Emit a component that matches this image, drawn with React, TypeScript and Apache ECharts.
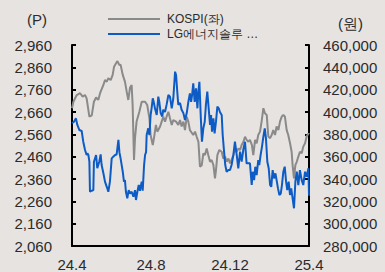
import React, { useEffect, useRef } from "react";
import * as echarts from "echarts";

// x = months since 2024.4
const xTickLabels = ["24.4", "24.8", "24.12", "25.4"];
const leftTicks = [2060, 2160, 2260, 2360, 2460, 2560, 2660, 2760, 2860, 2960];

const kospi: [number, number][] = [
  [0, 2677], [0.07, 2706], [0.24, 2736], [0.41, 2744], [0.54, 2729], [0.66, 2736], [0.74, 2721],
  [0.88, 2639], [1.0, 2645], [1.11, 2706], [1.22, 2725], [1.33, 2714], [1.42, 2744], [1.59, 2781],
  [1.67, 2803], [1.76, 2796], [1.84, 2811], [1.96, 2803], [2.06, 2826], [2.13, 2863], [2.23, 2878],
  [2.3, 2888], [2.4, 2870], [2.46, 2872], [2.57, 2826], [2.68, 2796], [2.77, 2751], [2.85, 2714],
  [2.94, 2770], [3.02, 2781], [3.07, 2691], [3.14, 2445], [3.19, 2543], [3.27, 2617], [3.41, 2661],
  [3.53, 2706], [3.7, 2706], [3.81, 2691], [3.92, 2632], [3.98, 2557], [4.09, 2512], [4.15, 2543],
  [4.25, 2602], [4.32, 2572], [4.46, 2595], [4.54, 2617], [4.62, 2639], [4.71, 2617], [4.79, 2639],
  [4.88, 2661], [4.96, 2632], [5.05, 2602], [5.13, 2624], [5.27, 2617], [5.38, 2602], [5.47, 2624],
  [5.55, 2595], [5.64, 2617], [5.72, 2579], [5.81, 2639], [5.89, 2617], [5.97, 2579], [6.08, 2565],
  [6.14, 2557], [6.23, 2572], [6.31, 2550], [6.4, 2527], [6.48, 2415], [6.57, 2422], [6.65, 2475],
  [6.73, 2467], [6.82, 2497], [6.9, 2467], [6.99, 2437], [7.07, 2445], [7.16, 2422], [7.24, 2363],
  [7.29, 2400], [7.36, 2467], [7.46, 2490], [7.58, 2482], [7.66, 2452], [7.75, 2460], [7.83, 2437],
  [7.92, 2452], [8.0, 2430], [8.08, 2445], [8.17, 2467], [8.25, 2490], [8.34, 2482], [8.42, 2497],
  [8.51, 2490], [8.59, 2512], [8.68, 2527], [8.76, 2549], [8.84, 2535], [8.93, 2527], [9.01, 2535],
  [9.11, 2512], [9.18, 2467], [9.27, 2535], [9.35, 2520], [9.43, 2557], [9.52, 2572], [9.6, 2617],
  [9.69, 2677], [9.77, 2654], [9.86, 2647], [9.94, 2550], [10.03, 2543], [10.11, 2557], [10.19, 2579],
  [10.28, 2557], [10.36, 2595], [10.45, 2579], [10.53, 2617], [10.62, 2639], [10.7, 2647], [10.78, 2639],
  [10.87, 2579], [10.95, 2557], [11.04, 2520], [11.12, 2482], [11.17, 2422], [11.24, 2363], [11.31, 2422],
  [11.38, 2437], [11.46, 2460], [11.54, 2482], [11.63, 2475], [11.71, 2505], [11.8, 2520], [11.88, 2550],
  [11.97, 2564], [12.0, 2560],
];

const lges: [number, number][] = [
  [0, 389900], [0.1, 391300], [0.2, 394300], [0.27, 388400], [0.37, 383900], [0.49, 383000],
  [0.57, 373400], [0.66, 366000], [0.74, 361500], [0.78, 363000], [0.83, 361500], [0.88, 355500],
  [0.91, 328600], [1.0, 329500], [1.08, 330000], [1.11, 355500], [1.22, 361500], [1.28, 349600],
  [1.38, 355500], [1.45, 362000], [1.5, 352500], [1.59, 345100], [1.67, 337600], [1.76, 333000],
  [1.84, 328600], [1.92, 337600], [2.01, 358500], [2.09, 360000], [2.18, 361500], [2.26, 362000],
  [2.35, 375000], [2.4, 364000], [2.46, 358500], [2.57, 346500], [2.63, 337600], [2.68, 339000],
  [2.73, 328600], [2.8, 322700], [2.87, 330000], [2.94, 327000], [3.02, 328600], [3.11, 324100],
  [3.19, 330000], [3.24, 321200], [3.31, 328600], [3.38, 334600], [3.44, 329500], [3.53, 337600],
  [3.58, 329500], [3.65, 352500], [3.7, 361500], [3.75, 364000], [3.78, 379400], [3.86, 385400],
  [3.92, 379400], [3.98, 397300], [4.03, 403300], [4.09, 412300], [4.15, 408000], [4.2, 403300],
  [4.29, 397300], [4.37, 413700], [4.42, 409000], [4.49, 399000], [4.57, 396000], [4.62, 402000],
  [4.71, 400000], [4.79, 406600], [4.88, 415200], [4.96, 413700], [5.05, 403300], [5.13, 412300],
  [5.22, 436100], [5.27, 433000], [5.33, 418200], [5.38, 406600], [5.47, 408000], [5.55, 402000],
  [5.64, 399000], [5.72, 392800], [5.81, 399000], [5.89, 409000], [5.97, 416700], [6.03, 409000],
  [6.08, 415200], [6.14, 425700], [6.21, 409000], [6.28, 421200], [6.35, 403300], [6.4, 418200],
  [6.45, 427100], [6.52, 395800], [6.58, 373400], [6.65, 385400], [6.72, 391300], [6.78, 406300],
  [6.85, 418200], [6.92, 403300], [6.99, 388400], [7.04, 397300], [7.09, 382400], [7.16, 394300],
  [7.22, 380900], [7.29, 391300], [7.36, 404800], [7.43, 403300], [7.49, 400000], [7.58, 397300],
  [7.63, 379400], [7.7, 364500], [7.76, 352500], [7.83, 346500], [7.92, 348000], [8.0, 348000],
  [8.08, 352500], [8.17, 361500], [8.25, 373400], [8.34, 361500], [8.42, 349600], [8.51, 364500],
  [8.59, 355500], [8.68, 367000], [8.76, 373400], [8.84, 354000], [9.01, 354000], [9.1, 334600],
  [9.15, 346500], [9.22, 339000], [9.28, 351000], [9.35, 343500], [9.43, 357000], [9.48, 352500],
  [9.55, 361500], [9.62, 369000], [9.69, 377900], [9.76, 385400], [9.82, 376400], [9.89, 355500],
  [9.96, 349600], [10.03, 334600], [10.09, 333000], [10.16, 348000], [10.23, 340500], [10.3, 345100],
  [10.36, 339000], [10.43, 331600], [10.5, 325700], [10.57, 327000], [10.63, 334600], [10.7, 346500],
  [10.77, 351000], [10.84, 337600], [10.9, 330000], [10.97, 337600], [11.04, 325700], [11.1, 331600],
  [11.17, 322700], [11.24, 313800], [11.31, 337600], [11.38, 346500], [11.46, 334600], [11.54, 348000],
  [11.63, 339000], [11.71, 334600], [11.8, 346500], [11.88, 342000], [11.97, 349600], [12.0, 325000],
];

const FONT = "'Liberation Sans', Arial, sans-serif";
const TXT = "#2b2b2b";
const GRAY = "#8a8a8a";
const BLUE = "#0d5cc6";
const LINE_ICON = "path://M0,0H52V2H0Z";

export default function App() {
  const ref = useRef<HTMLDivElement>(null);
  useEffect(() => {
    document.body.style.margin = "0";
    const chart = echarts.init(ref.current!, null, { renderer: "svg" });
    const axisLine = { show: true, lineStyle: { color: "#000", width: 2 } };
    chart.setOption({
      animation: false,
      backgroundColor: "#e6e3e1",
      textStyle: { fontFamily: FONT },
      grid: { left: 72, right: 76, top: 45, bottom: 26 },
      legend: {
        orient: "vertical",
        left: 103,
        top: 8,
        itemWidth: 52,
        itemHeight: 14,
        itemGap: 3,
        icon: LINE_ICON,
        textStyle: { fontSize: 12, color: TXT, fontFamily: FONT, padding: [0, 0, 0, 2] },
        data: ["KOSPI(좌)", "LG에너지솔루 …"],
      },
      graphic: [
        { type: "text", left: 27, top: 12, style: { text: "(P)", fontSize: 15, fill: TXT, fontFamily: FONT } },
        { type: "text", left: 338, top: 16, style: { text: "(원)", fontSize: 15, fill: TXT, fontFamily: FONT } },
      ],
      xAxis: {
        type: "value",
        min: 0,
        max: 12,
        interval: 4,
        axisLine,
        axisTick: { show: false },
        splitLine: { show: false },
        axisLabel: {
          fontSize: 15,
          color: TXT,
          margin: 11,
          formatter: (v: number) => xTickLabels[Math.round(v / 4)] ?? "",
        },
      },
      yAxis: [
        {
          type: "value",
          min: 2060,
          max: 2960,
          axisLine,
          axisTick: { show: true, inside: true, length: 4, lineStyle: { color: "#000", width: 2 }, customValues: leftTicks },
          splitLine: { show: false },
          axisLabel: {
            fontSize: 15,
            color: TXT,
            margin: 20,
            customValues: leftTicks,
            formatter: (v: number) => v.toLocaleString("en-US"),
          },
        },
        {
          type: "value",
          min: 280000,
          max: 460000,
          interval: 20000,
          position: "right",
          axisLine,
          axisTick: { show: true, inside: true, length: 4, lineStyle: { color: "#000", width: 2 } },
          splitLine: { show: false },
          axisLabel: {
            fontSize: 15,
            color: TXT,
            margin: 14,
            formatter: (v: number) => v.toLocaleString("en-US"),
          },
        },
      ],
      series: [
        {
          name: "KOSPI(좌)",
          type: "line",
          yAxisIndex: 0,
          data: kospi,
          symbol: "none",
          color: GRAY,
          lineStyle: { color: GRAY, width: 2 },
        },
        {
          name: "LG에너지솔루 …",
          type: "line",
          yAxisIndex: 1,
          data: lges,
          symbol: "none",
          color: BLUE,
          lineStyle: { color: BLUE, width: 2 },
        },
      ],
    });
    return () => chart.dispose();
  }, []);
  return <div ref={ref} style={{ position: "fixed", left: 0, top: 0, width: 385, height: 272 }} />;
}
